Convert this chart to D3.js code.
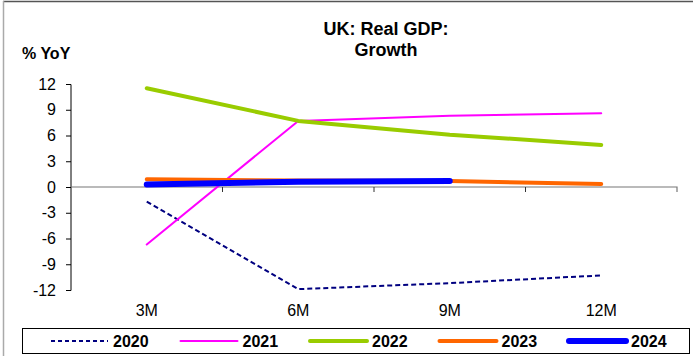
<!DOCTYPE html>
<html>
<head>
<meta charset="utf-8">
<script src="https://cdn.jsdelivr.net/npm/d3@7"></script>
<style>
  body { margin: 0; background: #fff; }
  svg { font-family: "Liberation Sans", Arial, sans-serif; }
</style>
</head>
<body>
<svg id="chart" width="693" height="356"></svg>
<script>
// data
var periods = ["3M", "6M", "9M", "12M"];
var yTicks = [-12, -9, -6, -3, 0, 3, 6, 9, 12];
var years = ["2020", "2021", "2022", "2023", "2024"];
var v2020 = [-1.7, -11.9, -11.2, -10.3];
var v2021 = [-6.7, 7.7, 8.3, 8.6];
var v2022 = [11.5, 7.7, 6.1, 4.9];
var v2023 = [0.9, 0.75, 0.7, 0.35];
var v2024 = [0.3, 0.6, 0.7];

var series = [
  {name: "2020", values: v2020, color: "#000080", width: 2, dash: "5,3"},
  {name: "2021", values: v2021, color: "#FF00FF", width: 2, dash: null},
  {name: "2022", values: v2022, color: "#99CC00", width: 4, dash: null},
  {name: "2023", values: v2023, color: "#FF6600", width: 4, dash: null},
  {name: "2024", values: v2024, color: "#0000FF", width: 6, dash: null}
];

var svg = d3.select("#chart");

// outer frame (top + left)
svg.append("line").attr("x1", 3).attr("x2", 693).attr("y1", 1.5).attr("y2", 1.5)
   .attr("stroke", "#555").attr("stroke-width", 1.5);
svg.append("line").attr("x1", 3.5).attr("x2", 3.5).attr("y1", 1).attr("y2", 356)
   .attr("stroke", "#aaa").attr("stroke-width", 1.5);

var x = d3.scaleBand().domain(periods).range([71, 677]);
var y = d3.scaleLinear().domain([-12, 12]).range([290, 84]);

// title
svg.append("text").attr("x", 386).attr("y", 35).attr("text-anchor", "middle")
   .attr("font-size", 18).attr("font-weight", "bold").text("UK: Real GDP:");
svg.append("text").attr("x", 386).attr("y", 56).attr("text-anchor", "middle")
   .attr("font-size", 18).attr("font-weight", "bold").text("Growth");
svg.append("text").attr("x", 22).attr("y", 59)
   .attr("font-size", 16).attr("font-weight", "bold").text("% YoY");

// y axis
var yAxis = svg.append("g").attr("transform", "translate(71,0)")
   .call(d3.axisLeft(y).tickValues(yTicks).tickSize(5).tickPadding(10)
      .tickFormat(function(d) { return String(d); }));
yAxis.select(".domain").attr("stroke", "#000").attr("d", "M-5,84.5H0V290.5H-5");
yAxis.selectAll(".tick line").attr("stroke", "#000");
yAxis.selectAll("text").attr("font-size", 16).attr("fill", "#000")
   .attr("font-family", "Liberation Sans, Arial, sans-serif");

// x axis at zero
var xAxis = svg.append("g").attr("transform", "translate(0," + y(0) + ")")
   .call(d3.axisBottom(x).tickSize(0).tickFormat(""));
xAxis.select(".domain").attr("stroke", "#777").attr("stroke-width", 1.2)
   .attr("d", "M71,0H677V5");
svg.append("g").selectAll("line")
   .data(periods.slice(1))
   .enter().append("line")
   .attr("x1", function(d) { return x(d); })
   .attr("x2", function(d) { return x(d); })
   .attr("y1", y(0)).attr("y2", y(0) + 5)
   .attr("stroke", "#333");

// x labels
svg.append("g").selectAll("text")
   .data(periods)
   .enter().append("text")
   .attr("x", function(d) { return x(d) + x.bandwidth() / 2; })
   .attr("y", 316)
   .attr("text-anchor", "middle")
   .attr("font-size", 16)
   .text(function(d) { return d; });

// lines
var line = d3.line()
   .x(function(d, i) { return x(periods[i]) + x.bandwidth() / 2; })
   .y(function(d) { return y(d); });

svg.append("g").selectAll("path")
   .data(series)
   .enter().append("path")
   .attr("d", function(d) { return line(d.values); })
   .attr("fill", "none")
   .attr("stroke", function(d) { return d.color; })
   .attr("stroke-width", function(d) { return d.width; })
   .attr("stroke-dasharray", function(d) { return d.dash; })
   .attr("stroke-linecap", function(d) { return d.dash ? "butt" : "round"; })
   .attr("stroke-linejoin", "round");

// legend
var legend = svg.append("g");
legend.append("rect").attr("x", 22.5).attr("y", 328.5).attr("width", 667).attr("height", 25)
   .attr("fill", "#fff").attr("stroke", "#000");

var legendX = d3.scalePoint().domain(years).range([51, 569]);
var item = legend.selectAll(".item")
   .data(series)
   .enter().append("g")
   .attr("transform", function(d) { return "translate(" + legendX(d.name) + ",341)"; });
item.append("line")
   .attr("x1", 0).attr("x2", 57).attr("y1", 0).attr("y2", 0)
   .attr("stroke", function(d) { return d.color; })
   .attr("stroke-width", function(d) { return d.width; })
   .attr("stroke-dasharray", function(d) { return d.dash ? "4,3" : null; })
   .attr("stroke-linecap", function(d) { return d.dash ? "butt" : "round"; });
item.append("text")
   .attr("x", 62).attr("y", 5.5)
   .attr("font-size", 16).attr("font-weight", "bold")
   .text(function(d) { return d.name; });
</script>
</body>
</html>
